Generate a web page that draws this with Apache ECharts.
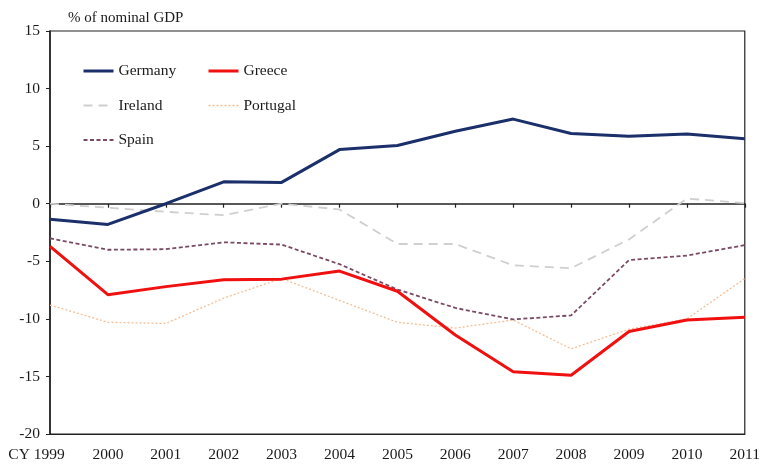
<!DOCTYPE html>
<html>
<head>
<meta charset="utf-8">
<script src="https://cdn.jsdelivr.net/npm/echarts@6/dist/echarts.min.js"></script>
<style>
html,body{margin:0;padding:0;background:#fff;}
#chart{width:763px;height:468px;}
</style>
</head>
<body>
<div id="chart"></div>
<script>
const years = ['CY 1999','2000','2001','2002','2003','2004','2005','2006','2007','2008','2009','2010','2011'];
const germany  = [-1.35, -1.8, 0.0, 1.9, 1.85, 4.7, 5.05, 6.3, 7.35, 6.1, 5.85, 6.05, 5.65];
const greece   = [-3.7, -7.9, -7.2, -6.6, -6.55, -5.85, -7.6, -11.4, -14.6, -14.9, -11.1, -10.1, -9.85];
const ireland  = [0.0, -0.35, -0.7, -1.0, 0.0, -0.5, -3.5, -3.5, -5.35, -5.6, -3.1, 0.45, 0.05];
const portugal = [-8.8, -10.3, -10.4, -8.2, -6.5, -8.4, -10.3, -10.8, -10.1, -12.6, -10.9, -10.0, -6.5];
const spain    = [-3.0, -4.0, -3.95, -3.35, -3.55, -5.25, -7.45, -9.05, -10.05, -9.7, -4.9, -4.5, -3.6];
const yTicks = {min: -20, max: 15, step: 5};

const serif = 'Liberation Serif';
const txt = '#1a1a1a';
const chart = echarts.init(document.getElementById('chart'));

function lineSeries(name, data, color, width, type) {
  return {
    name: name, type: 'line', data: data, xAxisIndex: 0,
    symbol: 'none', smooth: false,
    lineStyle: {color: color, width: width, type: type},
    itemStyle: {color: color},
    emphasis: {disabled: true}, z: width > 2 ? 3 : 2
  };
}

const legendBase = {
  orient: 'vertical', itemWidth: 30, itemHeight: 14, itemGap: 18.5,
  itemStyle: {opacity: 0, borderWidth: 0},
  textStyle: {fontFamily: serif, fontSize: 15.5, color: txt}
};

chart.setOption({
  animation: false,
  backgroundColor: '#fff',
  title: {
    text: '% of nominal GDP', left: 63, top: 6,
    textStyle: {fontFamily: serif, fontSize: 15, fontWeight: 'normal', color: txt}
  },
  grid: {left: 50, right: 16, top: 31, bottom: 34, show: true, borderColor: '#222', borderWidth: 1.2, backgroundColor: 'transparent'},
  legend: [
    Object.assign({left: 77, top: 58, data: [
      {name: 'Germany', lineStyle: {width: 3}},
      {name: 'Ireland', lineStyle: {width: 1.8}},
      {name: 'Spain', lineStyle: {width: 1.8}}
    ]}, legendBase),
    Object.assign({left: 202, top: 58, data: [
      {name: 'Greece', lineStyle: {width: 3}},
      {name: 'Portugal', lineStyle: {width: 1.3}}
    ]}, legendBase)
  ],
  xAxis: [
    {type: 'category', data: years, boundaryGap: false, position: 'bottom',
     axisLine: {show: true, onZero: false, lineStyle: {color: '#222', width: 1.2}},
     axisTick: {show: false},
     axisLabel: {interval: 0, margin: 13, fontFamily: serif, fontSize: 15.5, color: txt,
       formatter: function (v, i) { return i === 0 ? '{a|' + v + '}' : v; },
       rich: {a: {fontFamily: serif, fontSize: 15.5, color: txt, padding: [0, 27, 0, 0]}}},
     splitLine: {show: false}},
    {type: 'category', data: years, boundaryGap: false, position: 'top',
     axisLine: {show: true, onZero: true, onZeroAxisIndex: 0, lineStyle: {color: '#222', width: 1.5}},
     axisTick: {show: true, inside: true, length: 4, interval: 0, lineStyle: {color: '#222', width: 1.2}},
     axisLabel: {show: false}, splitLine: {show: false}}
  ],
  yAxis: {
    type: 'value', min: yTicks.min, max: yTicks.max, interval: yTicks.step,
    axisLine: {show: true, lineStyle: {color: '#222', width: 1.6}},
    axisTick: {show: true, length: 4, lineStyle: {color: '#222'}},
    axisLabel: {margin: 10, fontFamily: serif, fontSize: 15.5, color: txt},
    splitLine: {show: false}
  },
  series: [
    lineSeries('Germany', germany, '#1b2f6b', 3, 'solid'),
    lineSeries('Greece', greece, '#f01010', 3, 'solid'),
    lineSeries('Ireland', ireland, '#cfcfcf', 1.8, [9, 6]),
    lineSeries('Portugal', portugal, '#f5bf96', 1.3, [2, 2]),
    lineSeries('Spain', spain, '#7a4a64', 1.8, [4, 2.5])
  ]
});
</script>
</body>
</html>
